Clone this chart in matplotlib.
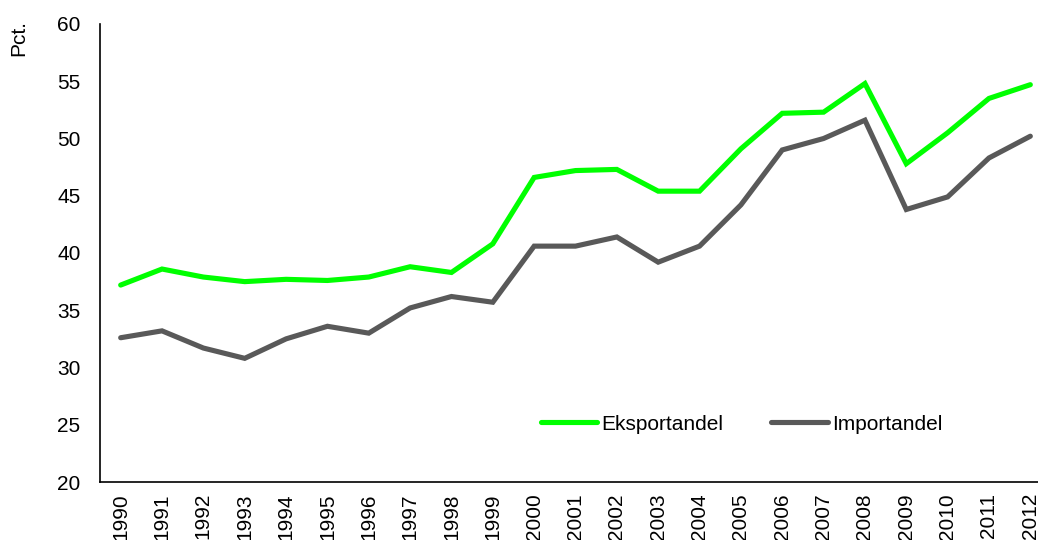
import matplotlib
matplotlib.use("Agg")
import matplotlib.pyplot as plt

years = [str(y) for y in range(1990, 2013)]
eksport = [37.2, 38.6, 37.9, 37.5, 37.7, 37.6, 37.9, 38.8, 38.3, 40.8, 46.6, 47.2, 47.3,
           45.4, 45.4, 49.1, 52.2, 52.3, 54.8, 47.8, 50.5, 53.5, 54.7]
import_ = [32.6, 33.2, 31.7, 30.8, 32.5, 33.6, 33.0, 35.2, 36.2, 35.7, 40.6, 40.6, 41.4,
           39.2, 40.6, 44.2, 49.0, 50.0, 51.6, 43.8, 44.9, 48.3, 50.2]
yticks = [20, 25, 30, 35, 40, 45, 50, 55, 60]

plt.rcParams['font.family'] = ['Liberation Sans', 'DejaVu Sans']
FS = 15

W, H = 1038, 540
fig = plt.figure(figsize=(W / 100, H / 100), dpi=100)
ax = fig.add_axes([100 / W, 1 - 482 / H, (1051 - 100) / W, (482 - 24) / H])

x = list(range(len(years)))
ax.plot(x, eksport, color='#00FF00', lw=3.7, solid_capstyle='round', solid_joinstyle='miter', label='Eksportandel')
ax.plot(x, import_, color='#595959', lw=3.7, solid_capstyle='round', solid_joinstyle='miter', label='Importandel')

ax.set_xlim(-0.5, len(years) - 0.5)
ax.set_ylim(20, 60)
ax.set_yticks(yticks)
ax.set_xticks(x)
ax.set_xticklabels(years, rotation=90, fontsize=FS)
ax.tick_params(axis='y', length=0, pad=14, labelsize=FS)
ax.tick_params(axis='x', length=0, pad=8)
for s in ['top', 'right']:
    ax.spines[s].set_visible(False)
for s in ['left', 'bottom']:
    ax.spines[s].set_linewidth(1.2)
    ax.spines[s].set_color('black')

fig.text(19 / W, 1 - 37.5 / H, 'Pct.', rotation=90, ha='center', va='center', fontsize=FS)

leg = fig.legend(loc='center left', bbox_to_anchor=(541 / W, 1 - 424 / H), ncol=2, frameon=False,
                 fontsize=FS, handlelength=2.7, handletextpad=0.2, columnspacing=2.3, borderpad=0,
                 borderaxespad=0)

fig.savefig('out.png', dpi=100)
